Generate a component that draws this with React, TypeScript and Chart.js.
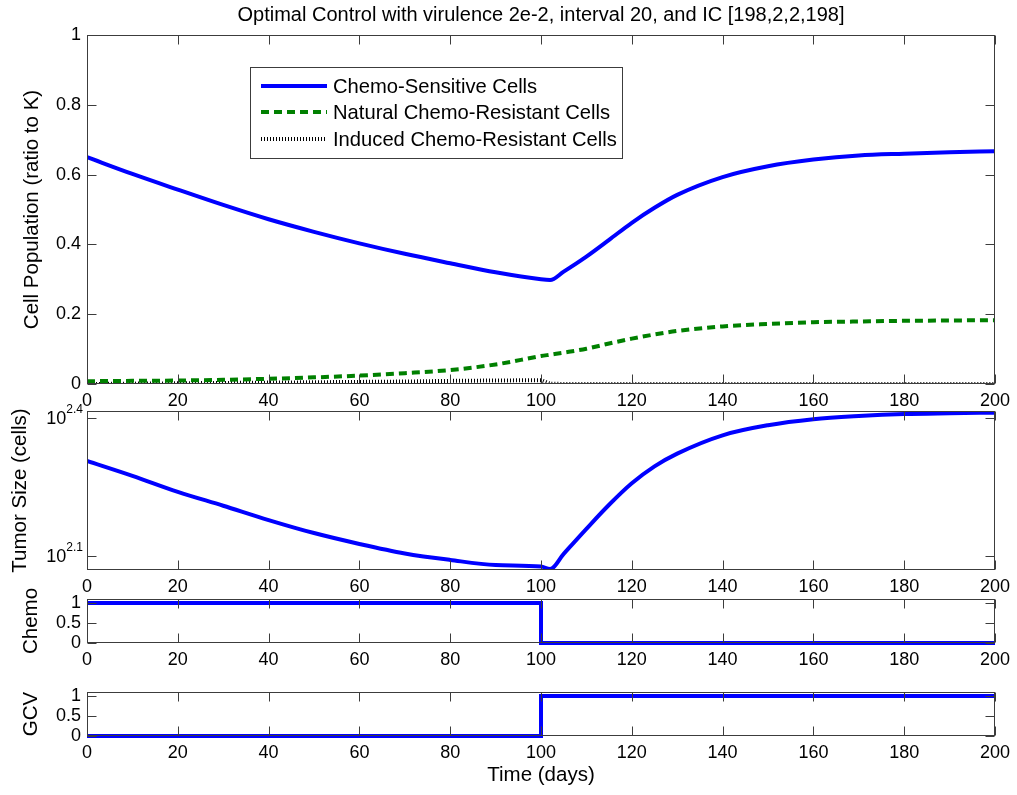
import React, { useEffect, useRef } from 'react';
import { Chart, registerables } from 'chart.js';
Chart.register(...registerables);

const FONT = '"Liberation Sans", Arial, Helvetica, sans-serif';

// ---- data ----
const chartTitle = 'Optimal Control with virulence 2e-2, interval 20, and IC [198,2,2,198]';
const days = [0, 10, 20, 30, 40, 50, 60, 70, 80, 90, 100, 102, 105, 110, 115, 120, 125, 130, 140, 150, 160, 170, 180, 190, 200];
const sensitive = [0.650, 0.602, 0.557, 0.513, 0.472, 0.436, 0.403, 0.373, 0.346, 0.320, 0.300, 0.298, 0.322, 0.365, 0.413, 0.462, 0.505, 0.542, 0.593, 0.624, 0.643, 0.655, 0.660, 0.664, 0.667];
const naturalRes = [0.008, 0.009, 0.010, 0.012, 0.015, 0.019, 0.024, 0.031, 0.040, 0.056, 0.080, 0.084, 0.090, 0.101, 0.116, 0.130, 0.142, 0.152, 0.165, 0.172, 0.177, 0.179, 0.181, 0.182, 0.183];
const inducedRes = [0.000, 0.001, 0.002, 0.003, 0.004, 0.005, 0.006, 0.007, 0.009, 0.010, 0.011, 0.001, 0, 0, 0, 0, 0, 0, 0, 0, 0, 0, 0, 0, 0];
const tumorSize = [203, 188.4, 173.9, 162.2, 151, 141.5, 134, 127.8, 123.7, 120.6, 119.7, 118.2, 127.5, 144.5, 163, 181.5, 197.5, 210.5, 230.7, 242.6, 250, 254, 256.6, 257.6, 258.3];
const switchDays = [0, 100, 100, 200];
const chemoDose = [1, 1, 0, 0];
const gcvDose = [0, 0, 1, 1];

const seriesLabels = ['Chemo-Sensitive Cells', 'Natural Chemo-Resistant Cells', 'Induced Chemo-Resistant Cells'];
const xTicks = [0, 20, 40, 60, 80, 100, 120, 140, 160, 180, 200];
const popTicks = [0, 0.2, 0.4, 0.6, 0.8, 1];
const tumorTickExp = ['2.1', '2.4'];
const doseTicks = [0, 0.5, 1];

const pts = (xs: number[], ys: number[]) => xs.map((x, i) => ({ x, y: ys[i] }));

// ---- plugins ----
const TICK_LEN = 9;
const framePlugin = {
  id: 'mframe',
  afterDatasetsDraw(chart: any) {
    const { ctx, chartArea: a, scales } = chart;
    ctx.save();
    ctx.strokeStyle = '#3c3c3c';
    ctx.lineWidth = 1;
    const L = Math.round(a.left) + 0.5, R = Math.round(a.right) - 0.5;
    const T = Math.round(a.top) + 0.5, B = Math.round(a.bottom) - 0.5;
    ctx.strokeRect(L, T, R - L, B - T);
    ctx.beginPath();
    for (const t of scales.x.ticks) {
      const px = Math.round(scales.x.getPixelForValue(t.value)) + 0.5;
      ctx.moveTo(px, B); ctx.lineTo(px, B - TICK_LEN);
      ctx.moveTo(px, T); ctx.lineTo(px, T + TICK_LEN);
    }
    for (const t of scales.y.ticks) {
      const py = Math.round(scales.y.getPixelForValue(t.value)) + 0.5;
      ctx.moveTo(L, py); ctx.lineTo(L + TICK_LEN, py);
      ctx.moveTo(R, py); ctx.lineTo(R - TICK_LEN, py);
    }
    ctx.stroke();
    ctx.restore();
  },
};

const legendPlugin = {
  id: 'mlegend',
  afterDraw(chart: any, _args: any, opts: any) {
    if (!opts || !opts.show) return;
    const { ctx } = chart;
    const { x, y, w, h, rows } = opts;
    ctx.save();
    ctx.fillStyle = '#fff';
    ctx.fillRect(x, y, w, h);
    ctx.strokeStyle = '#3c3c3c';
    ctx.lineWidth = 1;
    ctx.strokeRect(x + 0.5, y + 0.5, w, h);
    chart.data.datasets.forEach((ds: any, i: number) => {
      const ry = rows[i];
      ctx.beginPath();
      ctx.strokeStyle = ds.borderColor;
      ctx.lineWidth = ds.borderWidth;
      ctx.setLineDash(ds.borderDash || []);
      ctx.moveTo(x + 11, ry);
      ctx.lineTo(x + 77, ry);
      ctx.stroke();
      ctx.setLineDash([]);
      ctx.fillStyle = '#000';
      ctx.font = `20.2px ${FONT}`;
      ctx.textBaseline = 'middle';
      ctx.textAlign = 'left';
      ctx.fillText(ds.label, x + 83, ry + 1);
    });
    ctx.restore();
  },
};

const supLabelPlugin = {
  id: 'msup',
  afterDraw(chart: any, _args: any, opts: any) {
    if (!opts || !opts.show) return;
    const { ctx, scales } = chart;
    const s = scales.y;
    ctx.save();
    ctx.fillStyle = '#000';
    s.ticks.forEach((t: any, i: number) => {
      const py = s.getPixelForValue(t.value);
      const sup = opts.exps[i];
      ctx.font = `12px ${FONT}`;
      ctx.textAlign = 'right';
      ctx.textBaseline = 'middle';
      const sw = ctx.measureText(sup).width;
      ctx.fillText(sup, opts.right, py - 9);
      ctx.font = `18px ${FONT}`;
      ctx.fillText('10', opts.right - sw, py + 1);
    });
    ctx.restore();
  },
};

// ---- config builder ----
const AXIS_TITLE_SIZE = 20.5;
function xScale(labelHeight: number, title?: string) {
  return {
    type: 'linear',
    min: 0,
    max: 200,
    afterBuildTicks: (s: any) => { s.ticks = xTicks.map((v) => ({ value: v })); },
    afterFit: (s: any) => { s.height = labelHeight; },
    grid: { display: false, drawTicks: false },
    border: { display: false },
    ticks: { padding: 6, color: '#000', font: { family: FONT, size: 18 }, callback: (v: any) => String(v), maxRotation: 0, autoSkip: false },
    title: title
      ? { display: true, text: title, color: '#000', font: { family: FONT, size: AXIS_TITLE_SIZE }, padding: { top: 0, bottom: 7.7 } }
      : { display: false },
  };
}

function yScale(extra: any, title: string, titlePad: number, tickVals: number[]) {
  const { ticks: extraTicks, ...rest } = extra;
  return {
    afterBuildTicks: (s: any) => { s.ticks = tickVals.map((v) => ({ value: v })); },
    afterFit: (s: any) => { s.width = 87; },
    grid: { display: false, drawTicks: false },
    border: { display: false },
    ticks: { padding: 6, color: '#000', font: { family: FONT, size: 18 }, callback: (v: any) => String(v), autoSkip: false, ...(extraTicks || {}) },
    title: { display: true, text: title, color: '#000', font: { family: FONT, size: AXIS_TITLE_SIZE }, padding: { top: titlePad, bottom: 0 } },
    ...rest,
  };
}

function baseOptions(padTop: number, scales: any, plugins: any) {
  return {
    responsive: false,
    maintainAspectRatio: false,
    animation: false,
    devicePixelRatio: 1,
    events: [],
    layout: { padding: { top: padTop, right: 22, left: 0, bottom: 0 } },
    elements: { point: { radius: 0 }, line: { tension: 0 } },
    plugins: { legend: { display: false }, tooltip: { enabled: false }, ...plugins },
    scales,
  };
}

export default function App() {
  const c1 = useRef<HTMLCanvasElement>(null);
  const c2 = useRef<HTMLCanvasElement>(null);
  const c3 = useRef<HTMLCanvasElement>(null);
  const c4 = useRef<HTMLCanvasElement>(null);

  useEffect(() => {
    const charts: Chart[] = [];

    charts.push(new Chart(c1.current!, {
      type: 'line',
      data: {
        datasets: [
          { label: seriesLabels[0], data: pts(days, sensitive), borderColor: '#0000ff', borderWidth: 4, cubicInterpolationMode: 'monotone' },
          { label: seriesLabels[1], data: pts(days, naturalRes), borderColor: '#008000', borderWidth: 4, borderDash: [8, 5], cubicInterpolationMode: 'monotone' },
          { label: seriesLabels[2], data: pts(days, inducedRes), borderColor: '#000000', borderWidth: 4, borderDash: [1, 2], clip: 0 },
        ],
      } as any,
      options: baseOptions(0, {
        x: xScale(36),
        y: yScale({ type: 'linear', min: 0, max: 1 }, 'Cell Population (ratio to K)', 19.7, popTicks),
      }, {
        title: { display: true, text: chartTitle, fullSize: false, color: '#000', font: { family: FONT, size: 20, weight: 'normal' }, padding: { top: 3, bottom: 8 } },
        mlegend: { show: true, x: 250, y: 67, w: 372, h: 91, rows: [86, 112, 139] },
      }) as any,
      plugins: [framePlugin, legendPlugin],
    }));

    charts.push(new Chart(c2.current!, {
      type: 'line',
      data: {
        datasets: [
          { label: 'Tumor Size', data: pts(days, tumorSize), borderColor: '#0000ff', borderWidth: 4, cubicInterpolationMode: 'monotone' },
        ],
      } as any,
      options: baseOptions(16, {
        x: xScale(30),
        y: yScale({ type: 'logarithmic', min: Math.pow(10, 2.0705), max: Math.pow(10, 2.4158), ticks: { display: false } }, 'Tumor Size (cells)', 7.7,
          tumorTickExp.map((e) => Math.pow(10, parseFloat(e)))),
      }, {
        msup: { show: true, exps: tumorTickExp, right: 83 },
      }) as any,
      plugins: [framePlugin, supLabelPlugin],
    }));

    charts.push(new Chart(c3.current!, {
      type: 'line',
      data: {
        datasets: [
          { label: 'Chemo', data: pts(switchDays, chemoDose), borderColor: '#0000ff', borderWidth: 4, clip: false },
        ],
      } as any,
      options: baseOptions(17, {
        x: xScale(39),
        y: yScale({ type: 'linear', min: 0, max: 1.1 }, 'Chemo', 19, doseTicks),
      }, {}) as any,
      plugins: [framePlugin],
    }));

    charts.push(new Chart(c4.current!, {
      type: 'line',
      data: {
        datasets: [
          { label: 'GCV', data: pts(switchDays, gcvDose), borderColor: '#0000ff', borderWidth: 4, clip: false },
        ],
      } as any,
      options: baseOptions(17, {
        x: xScale(59, 'Time (days)'),
        y: yScale({ type: 'linear', min: 0, max: 1.1 }, 'GCV', 19, doseTicks),
      }, {}) as any,
      plugins: [framePlugin],
    }));

    return () => { charts.forEach((c) => c.destroy()); };
  }, []);

  const cs = (top: number): React.CSSProperties => ({ position: 'absolute', left: 0, top });
  return (
    <div style={{ position: 'fixed', left: 0, top: 0, width: 1017, height: 795, background: '#fff', overflow: 'hidden' }}>
      <canvas ref={c1} width={1017} height={420} style={cs(0)} />
      <canvas ref={c2} width={1017} height={205} style={cs(395)} />
      <canvas ref={c3} width={1017} height={100} style={cs(582)} />
      <canvas ref={c4} width={1017} height={120} style={cs(675)} />
    </div>
  );
}
